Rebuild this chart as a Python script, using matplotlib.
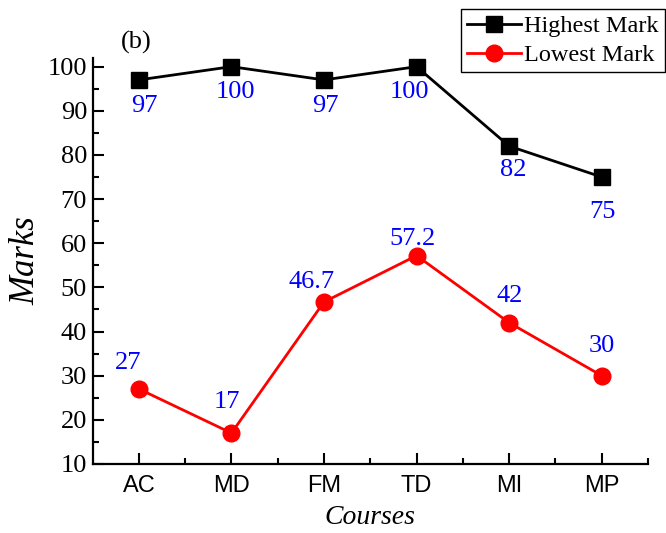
import matplotlib.pyplot as plt
from matplotlib.ticker import MultipleLocator

# data
courses = ["AC", "MD", "FM", "TD", "MI", "MP"]
highest = [97, 100, 97, 100, 82, 75]
lowest = [27, 17, 46.7, 57.2, 42, 30]
highest_labels = ["97", "100", "97", "100", "82", "75"]
lowest_labels = ["27", "17", "46.7", "57.2", "42", "30"]

# label offsets from the marker, in pixels (hand placed in the original)
hi_off = [(6, -26), (4, -25), (1, -26), (-7, -25), (4, -24), (1, -35)]
lo_off = [(-11, 26), (-5, 31), (-12, 20), (-4, 17), (1, 27), (0, 30)]

serif = "Liberation Serif"
sans = "Liberation Sans"
px = 72 / 100  # pixels -> points

fig = plt.figure(figsize=(6.66, 5.33), dpi=100)
ax = fig.add_axes([0.139, 0.1295, 0.834, 0.762])

x = list(range(1, len(courses) + 1))

ax.plot(x, highest, color="black", lw=2.0, marker="s", ms=11,
        label="Highest Mark")
ax.plot(x, lowest, color="red", lw=2.0, marker="o", ms=12,
        label="Lowest Mark")

# value labels, blue
for xi, v, t, (dx, dy) in zip(x, highest, highest_labels, hi_off):
    ax.annotate(t, (xi, v), xytext=(dx * px, dy * px), textcoords="offset points",
                ha="center", va="center", color="blue",
                fontsize=19, family=serif)
for xi, v, t, (dx, dy) in zip(x, lowest, lowest_labels, lo_off):
    ax.annotate(t, (xi, v), xytext=(dx * px, dy * px), textcoords="offset points",
                ha="center", va="center", color="blue",
                fontsize=19, family=serif)

ax.set_xlim(0.5, 6.5)
ax.set_ylim(10, 102)
ax.set_xticks(x)
ax.set_xticklabels(courses, family=sans, fontsize=17)
ax.set_xticks([1.5, 2.5, 3.5, 4.5, 5.5, 6.5], minor=True)
ax.yaxis.set_major_locator(MultipleLocator(10))
ax.yaxis.set_minor_locator(MultipleLocator(5))
for lab in ax.get_yticklabels():
    lab.set_family(serif)
    lab.set_fontsize(19)

ax.tick_params(which="both", direction="in", width=1.5)
ax.tick_params(which="major", length=8)
ax.tick_params(which="minor", length=4)
ax.tick_params(axis="x", pad=8)
ax.tick_params(axis="y", pad=4)

for side in ["top", "right"]:
    ax.spines[side].set_visible(False)
for side in ["left", "bottom"]:
    ax.spines[side].set_linewidth(1.6)

ax.set_ylabel("Marks", family=serif, style="italic", fontsize=25, labelpad=4)
ax.set_xlabel("Courses", family=serif, style="italic", fontsize=20, labelpad=6)

fig.text(136 / 666, 1 - 42 / 533, "(b)", family=serif, fontsize=19,
         ha="center", va="center")

leg = fig.legend(loc="upper left", bbox_to_anchor=(461 / 666, 1 - 9 / 533),
                 borderaxespad=0, frameon=True, fancybox=False,
                 edgecolor="black", framealpha=1, borderpad=0.25,
                 labelspacing=0.3, handlelength=2.2, handletextpad=0.15,
                 prop={"family": serif, "size": 17.5})
leg.get_frame().set_linewidth(1.0)

fig.savefig("out.png", dpi=100)
